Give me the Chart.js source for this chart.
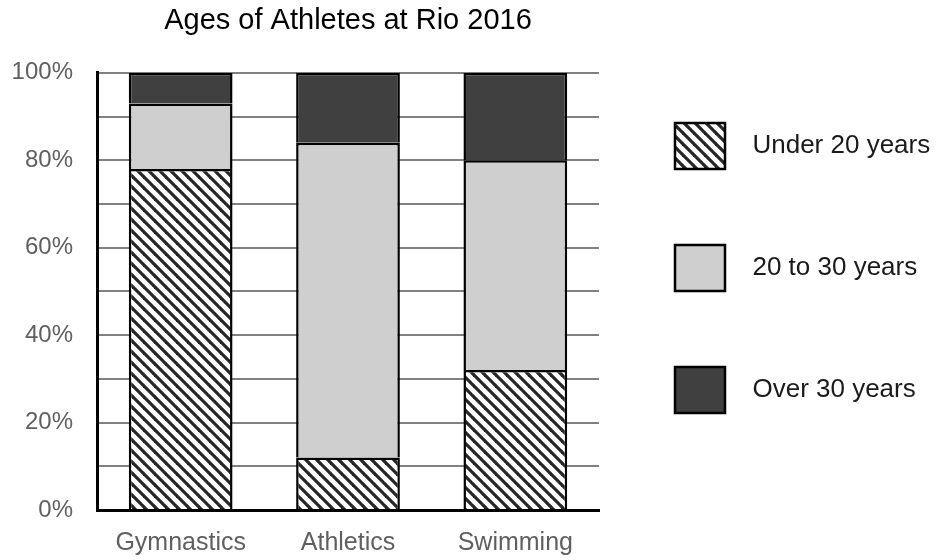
<!DOCTYPE html>
<html>
<head>
<meta charset="utf-8">
<title>Ages of Athletes at Rio 2016</title>
<script src="https://cdn.jsdelivr.net/npm/chart.js@4"></script>
<style>
  body { margin: 0; background: #fff; }
</style>
</head>
<body>
<canvas id="ageChart" width="936" height="560"></canvas>
<script>
const categories = ["Gymnastics", "Athletics", "Swimming"];
const seriesNames = ["Under 20 years", "20 to 30 years", "Over 30 years"];
const under20 = [78, 12, 32];
const from20to30 = [15, 72, 48];
const over30 = [7, 16, 20];
const yTickLabels = ["0%", "20%", "40%", "60%", "80%", "100%"];

const font = "'Liberation Sans', Arial, sans-serif";

// diagonal hatch used for the "Under 20" series
function hatchPattern() {
  const size = 11;
  const c = document.createElement("canvas");
  c.width = c.height = size;
  const g = c.getContext("2d");
  g.fillStyle = "#fff";
  g.fillRect(0, 0, size, size);
  g.strokeStyle = "#262626";
  g.lineWidth = 3.2;
  [-size, 0, size].forEach(k => {
    g.beginPath();
    g.moveTo(k - 1, -1);
    g.lineTo(k + size + 1, size + 1);
    g.stroke();
  });
  return g.createPattern(c, "repeat");
}

const fills = [hatchPattern(), "#d0cfd0", "#404040"];
const values = [under20, from20to30, over30];

new Chart(document.getElementById("ageChart"), {
  type: "bar",
  data: {
    labels: categories,
    datasets: seriesNames.map((name, i) => ({
      label: name,
      data: values[i],
      backgroundColor: fills[i],
      borderColor: "#000",
      borderWidth: 2.5,
      categoryPercentage: 1,
      barPercentage: 0.62
    }))
  },
  options: {
    responsive: false,
    animation: false,
    layout: { padding: { left: 12, right: 0, top: 0, bottom: 3 } },
    plugins: {
      title: {
        display: true,
        text: "Ages of Athletes at Rio 2016",
        fullSize: false,
        color: "#000",
        font: { family: font, size: 29, weight: "normal" },
        padding: { top: 4, bottom: 34 }
      },
      legend: {
        position: "right",
        align: "start",
        maxWidth: 337,
        title: { display: true, text: " ", padding: { top: 35, bottom: 0 }, font: { size: 10 } },
        labels: {
          boxWidth: 50,
          boxHeight: 46,
          padding: 76,
          color: "#1a1a1a",
          font: { family: font, size: 26 },
          generateLabels: chart =>
            Chart.defaults.plugins.legend.labels.generateLabels(chart).map(l => ({ ...l, text: "  " + l.text }))
        }
      },
      tooltip: { enabled: false }
    },
    scales: {
      x: {
        stacked: true,
        grid: { display: false },
        border: { color: "#000", width: 3 },
        ticks: { color: "#5f5f5f", padding: 10, font: { family: font, size: 25 } },
        afterFit: s => { s.height = 47; }
      },
      y: {
        stacked: true,
        min: 0,
        max: 100,
        grid: { color: "#808080", lineWidth: 2, drawTicks: false },
        border: { color: "#000", width: 3 },
        ticks: {
          stepSize: 10,
          padding: 24,
          color: "#5f5f5f",
          font: { family: font, size: 24 },
          callback: v => (v % 20 === 0 ? yTickLabels[v / 20] : "")
        },
        afterFit: s => { s.width = 85; }
      }
    }
  }
});
</script>
</body>
</html>
